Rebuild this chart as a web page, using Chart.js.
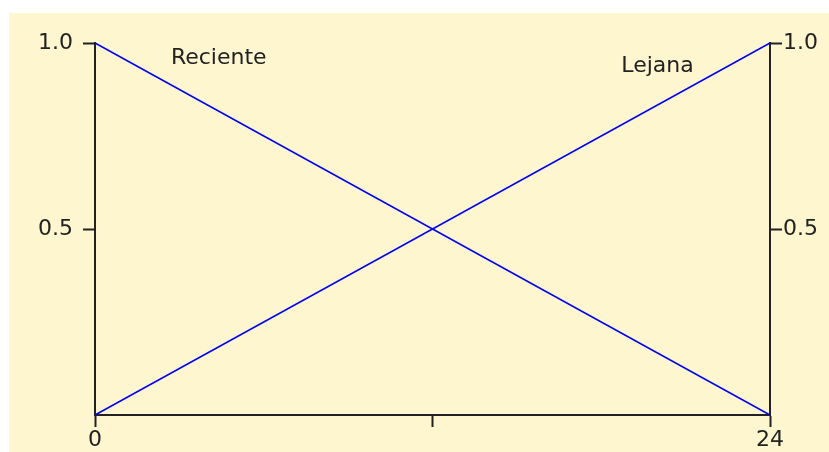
<!DOCTYPE html>
<html>
<head>
<meta charset="utf-8">
<script src="https://cdn.jsdelivr.net/npm/chart.js@4/dist/chart.umd.min.js"></script>
<style>
  html, body { margin: 0; padding: 0; background: #ffffff; width: 829px; height: 452px; overflow: hidden; }
  #bg { position: absolute; left: 9px; top: 13px; width: 820px; height: 439px; background: #fdf6cf; }
  #c { position: absolute; left: 0; top: 0; }
</style>
</head>
<body>
<div id="bg"></div>
<canvas id="c" width="829" height="452"></canvas>
<script>
// ---- data ----
const xValues = [0, 24];
const recienteValues = [1, 0];
const lejanaValues = [0, 1];
const xTicks = [0, 12, 24];
const xTickLabels = ['0', '', '24'];
const yTicks = [0.5, 1.0];
const yTickLabels = ['0.5', '1.0'];
const labelTexts = ['Reciente', 'Lejana'];
const labelX = [4.4, 20.0];
const labelY = [0.96, 0.937];

const FONT = { family: 'DejaVu Sans', size: 22 };
const INK = '#222222';

const annotate = {
  id: 'annotate',
  afterDatasetsDraw(chart) {
    const ctx = chart.ctx, xs = chart.scales.x, ys = chart.scales.y;
    ctx.save();
    ctx.font = FONT.size + 'px "' + FONT.family + '"';
    ctx.fillStyle = INK;
    ctx.textAlign = 'center';
    ctx.textBaseline = 'middle';
    labelTexts.forEach((t, i) => {
      ctx.fillText(t, xs.getPixelForValue(labelX[i]), ys.getPixelForValue(labelY[i]));
    });
    ctx.restore();
  }
};

function yAxis(position, width, pad) {
  return {
    type: 'linear', position, min: 0, max: 1,
    afterBuildTicks: s => { s.ticks = yTicks.map(v => ({ value: v })); },
    afterFit: s => { s.width = width; },
    ticks: {
      color: INK, font: FONT, padding: pad,
      callback: (v) => { const i = yTicks.indexOf(v); return i >= 0 ? yTickLabels[i] : ''; }
    },
    grid: { drawOnChartArea: false, drawTicks: true, tickLength: 12, tickWidth: 2, tickColor: INK },
    border: { display: true, color: INK, width: 2 }
  };
}

new Chart(document.getElementById('c'), {
  type: 'line',
  data: {
    datasets: [
      { label: labelTexts[0], data: xValues.map((x, i) => ({ x, y: recienteValues[i] })),
        borderColor: '#0000ff', borderWidth: 1.5, pointRadius: 0, fill: false, tension: 0 },
      { label: labelTexts[1], data: xValues.map((x, i) => ({ x, y: lejanaValues[i] })),
        borderColor: '#0000ff', borderWidth: 1.5, pointRadius: 0, fill: false, tension: 0 }
    ]
  },
  options: {
    responsive: false,
    animation: false,
    clip: false,
    layout: { padding: { top: 43, left: 0, right: 0, bottom: 0 } },
    plugins: { legend: { display: false }, tooltip: { enabled: false }, title: { display: false } },
    scales: {
      x: {
        type: 'linear', position: 'bottom', min: 0, max: 24,
        afterBuildTicks: s => { s.ticks = xTicks.map(v => ({ value: v })); },
        afterFit: s => { s.height = 37; },
        ticks: {
          color: INK, font: FONT, padding: 0, maxRotation: 0,
          callback: (v) => { const i = xTicks.indexOf(v); return i >= 0 ? xTickLabels[i] : ''; }
        },
        grid: { drawOnChartArea: false, drawTicks: true, tickLength: 12, tickWidth: 2, tickColor: INK },
        border: { display: true, color: INK, width: 2 }
      },
      y: yAxis('left', 95, 10),
      y2: yAxis('right', 59, 1)
    }
  },
  plugins: [annotate]
});
</script>
</body>
</html>
